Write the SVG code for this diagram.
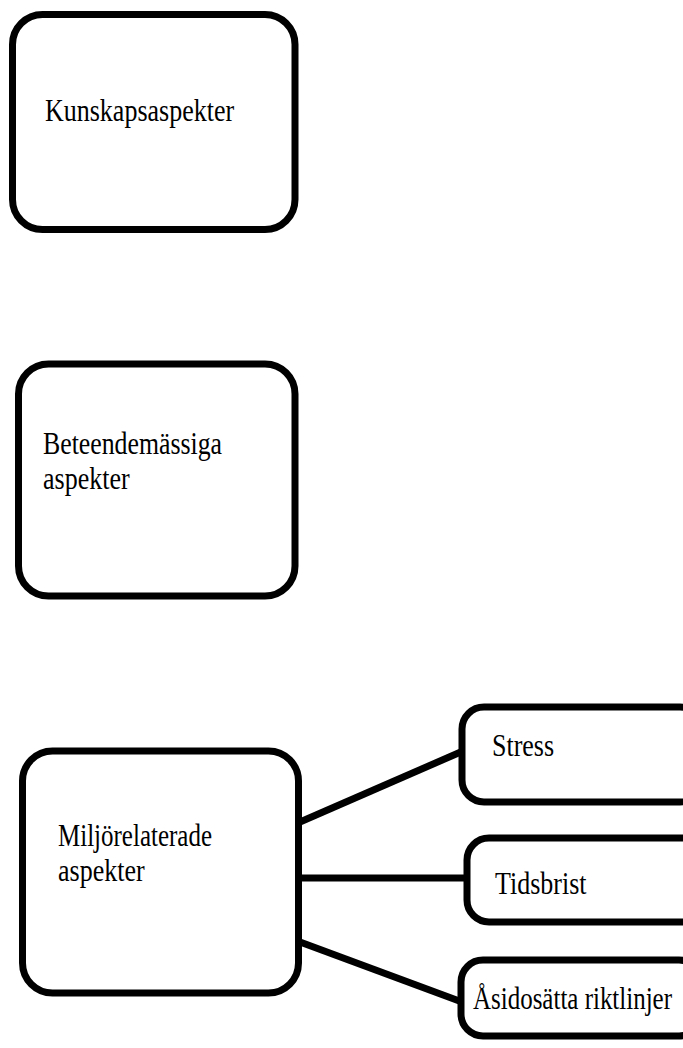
<svg xmlns="http://www.w3.org/2000/svg" width="683" height="1048" viewBox="0 0 683 1048">
<style>
.box{fill:#fff;stroke:#000;stroke-width:7}
.lbl{font-family:"Liberation Serif","Times New Roman",serif;font-size:26px;fill:#000}
.con{stroke:#000;stroke-width:7;fill:none}
</style>
<rect width="683" height="1048" fill="#fff"/>
<g id="connectors">
<line class="con" x1="300" y1="822" x2="463" y2="751"/>
<line class="con" x1="300" y1="878" x2="467" y2="878"/>
<line class="con" x1="300" y1="942" x2="462" y2="1002"/>
</g>
<g id="n1">
<rect class="box" x="12.5" y="14.5" width="282.5" height="215" rx="30"/>
<text class="lbl" transform="translate(45,121) scale(1,1.2)">Kunskapsaspekter</text>
</g>
<g id="n2">
<rect class="box" x="18.5" y="364" width="276.5" height="232" rx="30"/>
<text class="lbl" transform="translate(43,454) scale(1,1.2)" textLength="179" lengthAdjust="spacingAndGlyphs">Beteendemässiga</text>
<text class="lbl" transform="translate(43,489) scale(1,1.2)">aspekter</text>
</g>
<g id="n3">
<rect class="box" x="22.5" y="751" width="276" height="242" rx="30"/>
<text class="lbl" transform="translate(58,846) scale(1,1.2)" textLength="154" lengthAdjust="spacingAndGlyphs">Miljörelaterade</text>
<text class="lbl" transform="translate(58,881) scale(1,1.2)">aspekter</text>
</g>
<g id="n4">
<rect class="box" x="462" y="707" width="240" height="95" rx="22"/>
<text class="lbl" transform="translate(492,756) scale(1,1.2)">Stress</text>
</g>
<g id="n5">
<rect class="box" x="467" y="838" width="240" height="84" rx="22"/>
<text class="lbl" transform="translate(495,894) scale(1,1.2)">Tidsbrist</text>
</g>
<g id="n6">
<rect class="box" x="461" y="960" width="240" height="76" rx="22"/>
<text class="lbl" transform="translate(473,1009) scale(1,1.2)" textLength="199" lengthAdjust="spacingAndGlyphs">Åsidosätta riktlinjer</text>
</g>
</svg>
